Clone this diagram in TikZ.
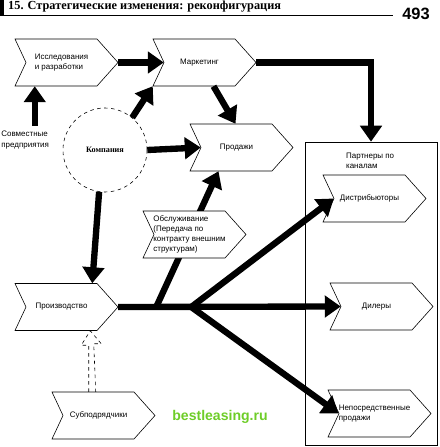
\documentclass[tikz,border=0pt]{standalone}
\usepackage{fontspec}
\setmainfont{Liberation Serif}
\setsansfont{Liberation Sans}
\usepackage{tikz}
\usetikzlibrary{arrows.meta, positioning, calc}
\definecolor{wmgreen}{RGB}{110,205,40}
\tikzstyle{chevline} = [draw=black, fill=white, line width=0.5pt]
\tikzstyle{chevtext} = [rectangle, inner sep=0pt, minimum width=21.3mm, minimum height=14.1mm, align=left, font=\sffamily\fontsize{6.8}{8.6}\selectfont]
\tikzstyle{note} = [align=left, inner sep=1pt, font=\sffamily\fontsize{6.8}{8.6}\selectfont]
\tikzstyle{arrow} = [line width=1.9mm, -{Triangle[width=6.4mm, length=4.8mm]}]
\tikzstyle{subarrow} = [dashed, line width=0.5pt]
% chevron: name, centre, text
\newcommand{\chevron}[3]{%
  \draw[chevline] ($(#2)+(-46.5,-23.5)$) -- ++(82,0) -- ++(21,23.5) -- ++(-21,23.5) -- ++(-82,0) -- ++(11,-23.5) -- cycle;
  \node[chevtext] (#1) at (#2) {#3};
  \coordinate (#1-tip) at ($(#1.east)+(21,0)$);
}

\begin{document}
\begin{tikzpicture}[x=0.3mm, y=-0.3mm]
\useasboundingbox (0,0) rectangle (439,447);

% page header
\fill (0,0) rectangle (4,16);
\draw[line width=0.35mm] (0,15.5) -- (393,15.5);
\node[anchor=west, inner sep=0pt, font=\rmfamily\bfseries\fontsize{10.5}{12}\selectfont] (title) at (8,7) {15. Стратегические изменения: реконфигурация};
\node[inner sep=0pt, font=\sffamily\bfseries\fontsize{14}{16}\selectfont] (page) at (416,14) {493};

% channel partners box
\node[draw, line width=0.5pt, inner sep=0pt, minimum width=39.6mm, minimum height=90.9mm] (pbox) at (371,293.5) {};
\node[note, anchor=north west] (plabel) at ($(pbox.north west)+(40,10)$) {Партнеры по\\каналам};

\chevron{rd}{61.5,62.5}{Исследования\\и разработки}
\chevron{mkt}{199.5,62.5}{Маркетинг}
\chevron{sales}{236.5,147.5}{Продажи}
\chevron{prod}{61.5,307}{Производство}
\chevron{sub}{98.5,415.5}{Субподрядчики}
\chevron{dist}{369.5,198.5}{Дистрибьюторы}
\chevron{deal}{376.5,306.5}{Дилеры}
\chevron{direct}{374.5,413.5}{Непосредственные\\продажи}

\node[circle, draw, dashed, line width=0.5pt, minimum size=25.2mm, font=\rmfamily\bfseries\fontsize{7}{8}\selectfont] (comp) at (105,150) {Компания};
\node[note, anchor=north west] (jv) at (0,130) {Совместные\\предприятия};

\coordinate (rdfoot) at ($(rd.south west)+(9,0)$);
\coordinate (prodtop) at ($(prod.north east)+(-5,0)$);
\coordinate (split) at ($(prod-tip)+(38,0)$);
\coordinate (fork) at ($(prod-tip)+(73,0)$);

\draw[arrow] (rd-tip) -- (mkt.west);
\draw[arrow] ($(rdfoot |- jv.north)+(0,-4)$) -- (rdfoot);
\draw[arrow] (comp.50) -- ($(mkt.south west)+(-11,0)$);
\draw[arrow] ($(mkt.south)+(14,0)$) -- ($(sales.north)+(-1,0)$);
\draw[arrow] (comp.east) -- (sales.west);
\draw[arrow] (mkt-tip) -| (pbox.north);
\draw[arrow] (comp.262) -- (prodtop);
\draw[arrow] (prod-tip) -- (deal.west);
\draw[arrow] (split) -- ($(sales.south)+(-18,0)$);
\draw[arrow] (fork) -- (dist.west);
\draw[arrow] (fork) -- (direct.west);

% outsourcing sits over the branch to sales
\chevron{outs}{189.5,234.5}{Обслуживание\\(Передача по\\контракту внешним\\структурам)}

% subcontractors: open dashed arrow
\draw[subarrow] ($(sub.north -| prodtop)+(-3.5,0)$) -- ($(prodtop)+(-3.5,62)$) -- ++(-7.5,0) -- ($(prod.south east)+(-7,0)$) -- ++(11,13) -- ++(-7.5,0) -- ($(sub.north -| prodtop)+(3.5,0)$);

\node[font=\sffamily\bfseries\fontsize{12}{14}\selectfont, text=wmgreen] (wm) at (220,417) {bestleasing.ru};
\end{tikzpicture}
\end{document}
